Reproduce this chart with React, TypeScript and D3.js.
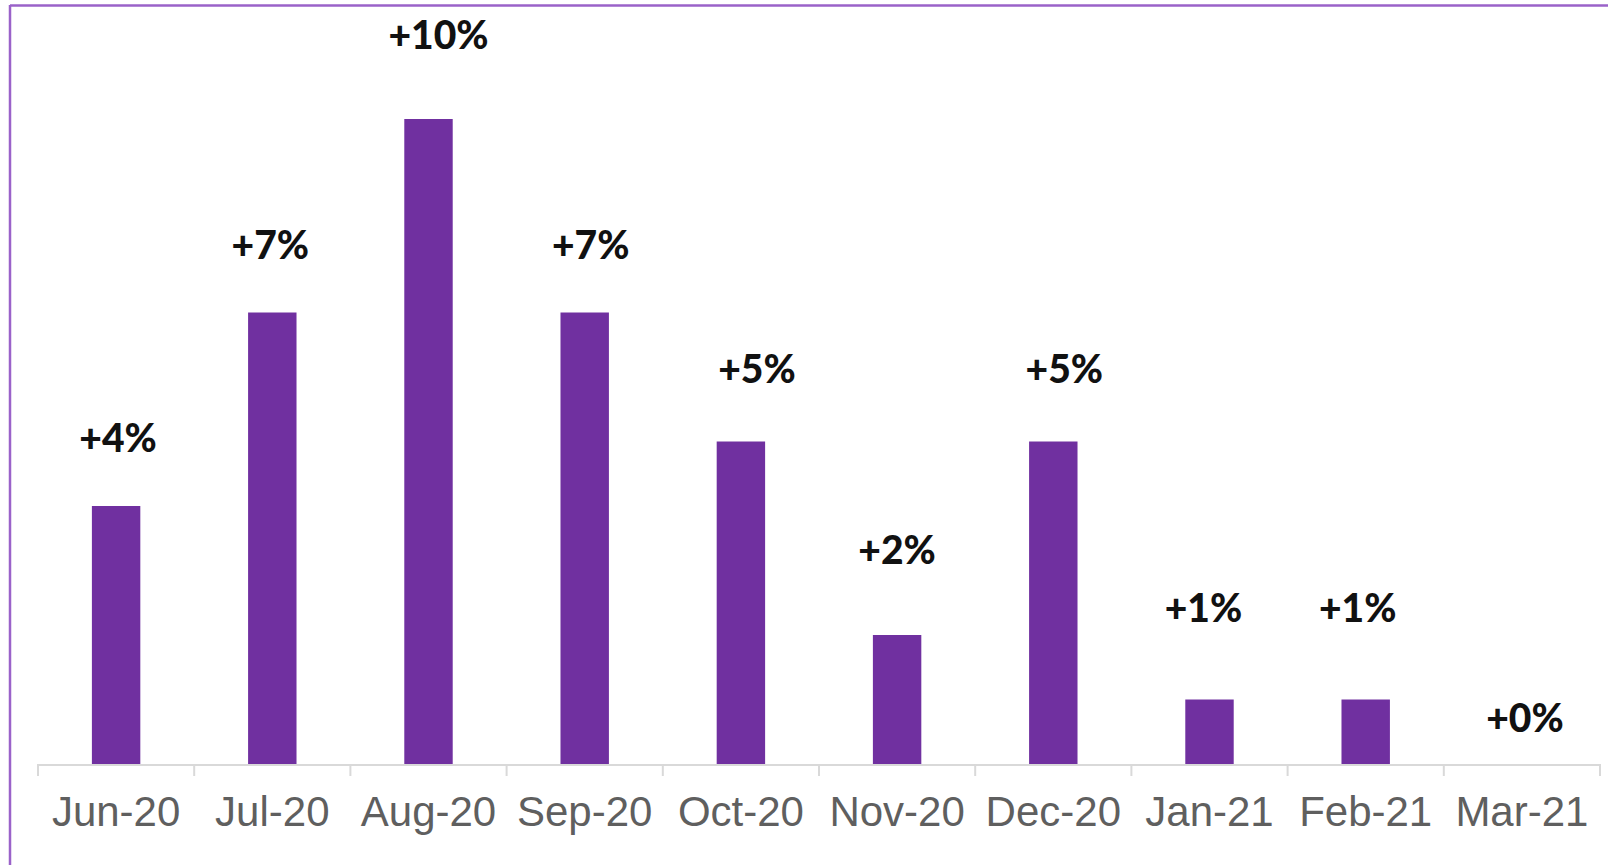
import React from "react";
import * as d3 from "d3";

const categories = ["Jun-20", "Jul-20", "Aug-20", "Sep-20", "Oct-20", "Nov-20", "Dec-20", "Jan-21", "Feb-21", "Mar-21"];
const values = [4, 7, 10, 7, 5, 2, 5, 1, 1, 0];
const valueLabels = ["+4%", "+7%", "+10%", "+7%", "+5%", "+2%", "+5%", "+1%", "+1%", "+0%"];

// layout tweaks for label placement (pixels), matching the reference
const labelGap = [54, 54, 70, 54, 59, 71, 59, 78, 78, 32];
const labelDx = [2, -2, 10, 6, 16, 0, 11, -6, -8, 3];

const W = 1608;
const H = 865;
const x0 = 38;
const x1 = 1600;
const baseY = 764;

export default function App() {
  const x = d3.scaleBand<string>().domain(categories).range([x0, x1]).paddingInner(0.69).paddingOuter(0.345);
  const xb = d3.scaleBand<string>().domain(categories).range([x0, x1]).padding(0);
  const y = d3.scaleLinear().domain([0, 10]).range([baseY, 119]);
  const ticks = d3.range(categories.length + 1).map((i) => x0 + i * xb.step());

  return (
    <svg
      width={W}
      height={H}
      style={{ position: "absolute", left: 0, top: 0, background: "#ffffff" }}
    >
      <rect x={0} y={0} width={W} height={H} fill="#ffffff" />
      <line x1={10} y1={5.5} x2={W} y2={5.5} stroke="#9a62c9" strokeWidth={2.5} />
      <line x1={10} y1={5} x2={10} y2={H} stroke="#9a62c9" strokeWidth={2.5} />
      {categories.map((c, i) => (
        <rect
          key={c}
          x={x(c)}
          y={y(values[i])}
          width={x.bandwidth()}
          height={baseY - y(values[i])}
          fill="#7030a0"
        />
      ))}
      <line x1={x0} y1={baseY + 1} x2={x1} y2={baseY + 1} stroke="#d9d9d9" strokeWidth={2} />
      {ticks.map((t, i) => (
        <line key={i} x1={t} y1={baseY} x2={t} y2={baseY + 12} stroke="#d9d9d9" strokeWidth={2} />
      ))}
      {categories.map((c, i) => (
        <text
          key={"lab" + c}
          x={(xb(c) as number) + xb.bandwidth() / 2 + labelDx[i]}
          y={y(values[i]) - labelGap[i]}
          textAnchor="middle"
          fontFamily="Lato, 'Liberation Sans', sans-serif"
          fontWeight={900}
          fontSize={39}
          fill="#111111"
        >
          {valueLabels[i]}
        </text>
      ))}
      {categories.map((c) => (
        <text
          key={"ax" + c}
          x={(xb(c) as number) + xb.bandwidth() / 2}
          y={826}
          textAnchor="middle"
          fontFamily="'Liberation Sans', Arial, sans-serif"
          fontSize={42}
          fill="#5f5f5f"
        >
          {c}
        </text>
      ))}
    </svg>
  );
}
